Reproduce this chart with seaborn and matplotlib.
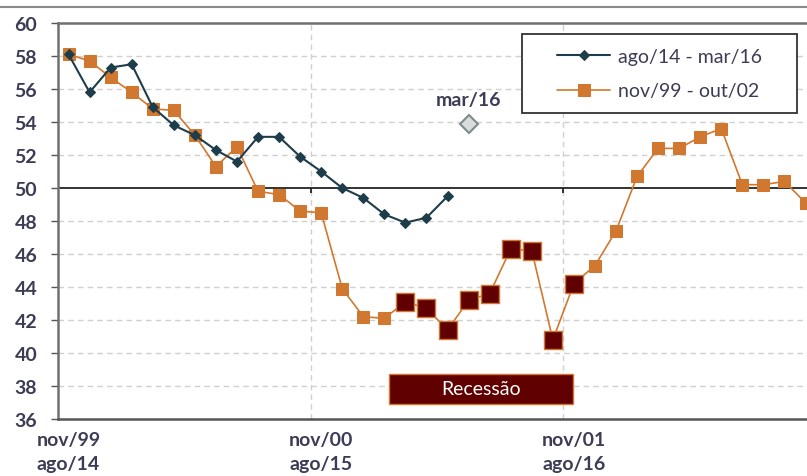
import numpy as np
import pandas as pd
import matplotlib
matplotlib.use('Agg')
import matplotlib.pyplot as plt
from matplotlib.patches import Rectangle
from matplotlib.lines import Line2D
import seaborn as sns

# series values (index = months since start)
recent_label = 'ago/14 - mar/16'
recent_vals = [58.1, 55.8, 57.3, 57.5, 54.9, 53.8, 53.2, 52.3, 51.6, 53.1,
               53.1, 51.9, 51.0, 50.0, 49.4, 48.4, 47.9, 48.2, 49.5]
mar16_val = 53.9

past_label = 'nov/99 - out/02'
past_vals = [58.1, 57.7, 56.7, 55.8, 54.8, 54.7, 53.2, 51.3, 52.5, 49.8,
             49.6, 48.6, 48.5, 43.9, 42.2, 42.1, 43.1, 42.7, 41.4, 43.2,
             43.6, 46.3, 46.2, 40.8, 44.2, 45.3, 47.4, 50.7, 52.4, 52.4,
             53.1, 53.6, 50.2, 50.2, 50.4, 49.1]
recession_idx = list(range(16, 25))

tick_pos = [0, 12, 24]
tick_labels = ['nov/99\nago/14', 'nov/00\nago/15', 'nov/01\nago/16']

navy = '#1E3D4A'
orange = '#D07830'
maroon = '#600000'
txt = '#3C3C56'

sns.set_theme(style='white')
plt.rcParams['font.family'] = ['Lato', 'DejaVu Sans']

df_recent = pd.DataFrame({'x': np.arange(len(recent_vals)), 'y': recent_vals})
df_past = pd.DataFrame({'x': np.arange(len(past_vals)), 'y': past_vals})
df_rec = df_past.iloc[recession_idx]

fig = plt.figure(figsize=(8.07, 4.77), dpi=100)
ax = fig.add_axes([58 / 807, 57 / 477, 749 / 807, 396 / 477])

sns.lineplot(data=df_past, x='x', y='y', ax=ax, color=orange, lw=1.2,
             marker='s', markersize=8.5, markeredgecolor=orange, label=past_label, zorder=3)
sns.scatterplot(data=df_rec, x='x', y='y', ax=ax, marker='s', s=155, color=maroon,
                edgecolor=orange, linewidth=1, zorder=4)
sns.lineplot(data=df_recent, x='x', y='y', ax=ax, color=navy, lw=1.5,
             marker='D', markersize=5, markeredgecolor=navy, label=recent_label, zorder=5)
ax.plot([len(recent_vals)], [mar16_val], marker='D', markersize=9, color='#D9DCDC',
        markeredgecolor='#7E8C8C', markeredgewidth=1.5, ls='none', zorder=5)
ax.text(len(recent_vals), mar16_val + 1.45, 'mar/16', ha='center', va='center',
        fontsize=14, fontweight='bold', color=txt)

# recession box
ax.add_patch(Rectangle((15.22, 36.9), 8.74, 1.83, facecolor=maroon, edgecolor=orange,
                       lw=1, zorder=4))
ax.text(19.6, 37.82, 'Recessão', ha='center', va='center', color='white',
        fontsize=14, zorder=5)

ax.set_yticks(np.arange(36, 61, 2))
ax.set_xticks(tick_pos)
ax.set_xticklabels(tick_labels, fontsize=14, fontweight='bold', color=txt, linespacing=1.45)
ax.set_xticks([11.5, 23.5, 35.5], minor=True)
ax.set_xlim(-0.5, 35.07)
ax.set_ylim(36, 60)
ax.tick_params(axis='y', labelsize=14, labelcolor=txt, length=5, width=1, color='#555555',
               direction='out', left=True, pad=10)
for lab in ax.get_yticklabels():
    lab.set_fontweight('bold')
ax.tick_params(axis='x', which='both', length=0, pad=9)
ax.set_xlabel('')
ax.set_ylabel('')

ax.grid(False)
for y in np.arange(38, 60, 2):
    if y != 50:
        ax.axhline(y, color='#D0D0D0', lw=1, ls=(0, (4, 3)), zorder=1)
ax.grid(which='minor', axis='x', color='#D0D0D0', lw=1, ls=(0, (4, 3)))
ax.axhline(50, color='#222222', lw=1.3, zorder=2)
ax.vlines([11.5, 23.5], 49.7, 50, color='#222222', lw=1.3)

for s in ['left', 'bottom', 'top']:
    ax.spines[s].set_visible(True)
    ax.spines[s].set_color('#707070')
    ax.spines[s].set_linewidth(1.8)
ax.spines['bottom'].set_color('#555555')
ax.spines['right'].set_visible(False)

fig.add_artist(Line2D([0, 1], [0.983, 0.983], transform=fig.transFigure,
                      color='#8A8A8A', lw=1.5))

# legend: frame drawn as separate box so padding matches
ax.add_patch(Rectangle((0.6195, 0.7727), 0.367, 0.1995, transform=ax.transAxes,
                       facecolor='white', edgecolor='#333333', lw=1.3, zorder=6))
handles, labels = ax.get_legend_handles_labels()
order = [labels.index(recent_label), labels.index(past_label)]
leg = ax.legend([handles[i] for i in order], [labels[i] for i in order],
                loc='center', bbox_to_anchor=(0.803, 0.872), fontsize=14,
                handlelength=2.7, labelspacing=0.9, handletextpad=0.4, frameon=False)
leg.set_zorder(7)
for t in leg.get_texts():
    t.set_color(txt)

fig.savefig('out.png', dpi=100)
